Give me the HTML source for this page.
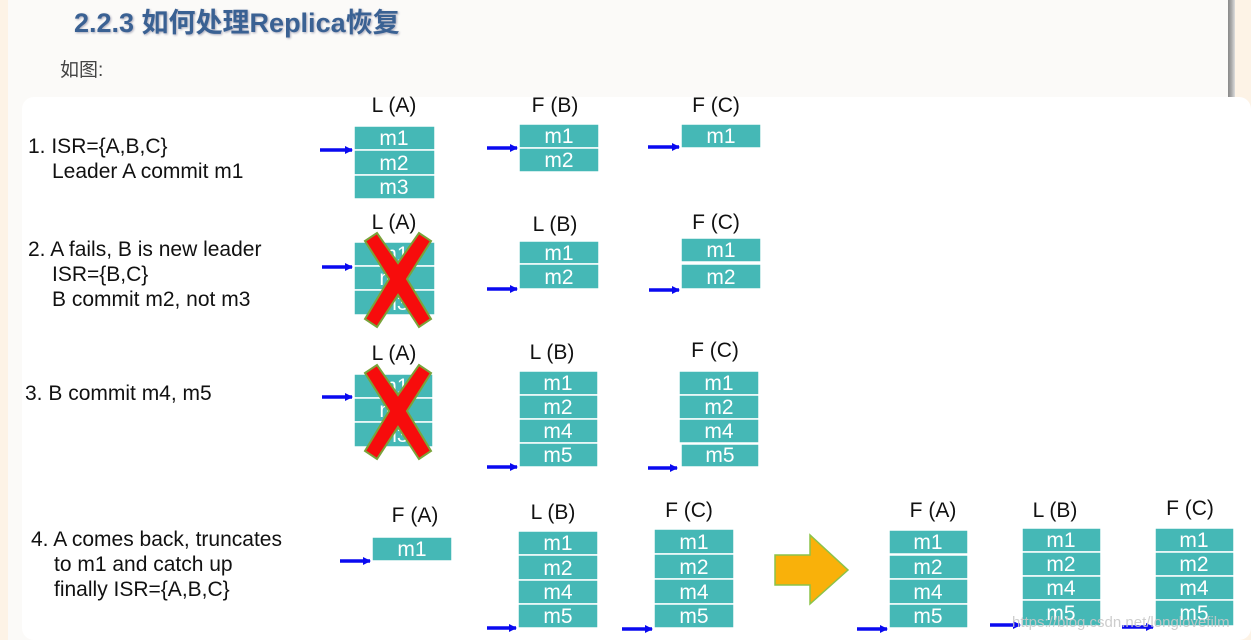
<!DOCTYPE html>
<html><head><meta charset="utf-8"><style>
html,body{margin:0;padding:0;width:1251px;height:640px;overflow:hidden;background:#fdf3e6;}
#page{position:absolute;left:8px;top:0;width:1220px;height:640px;background:#fbfaf8;}
#bar{position:absolute;left:1228px;top:0;width:7px;height:640px;background:linear-gradient(90deg,#888,#aaa,#ddd);}
h2{position:absolute;left:74px;top:1px;margin:0;font:bold 27px "Liberation Sans","Noto Sans CJK SC",sans-serif;color:#3a6193;text-shadow:1px 1px 2px #aab;}
.p{position:absolute;left:60px;top:55px;font:19px "Liberation Sans","Noto Sans CJK SC",sans-serif;color:#444;}
svg{position:absolute;left:0;top:0;}
</style></head><body>
<div id="page"></div><div id="bar"></div>
<h2>2.2.3 如何处理Replica恢复</h2>
<div class="p">如图:</div>
<svg width="1251" height="640" font-family="Liberation Sans, sans-serif">
<defs>
<marker id="ah" markerWidth="8" markerHeight="8" refX="7" refY="4" orient="auto" markerUnits="userSpaceOnUse"><path d="M0,0 L8,4 L0,8 Z" fill="#0a0af0"/></marker>
<g id="x"><path d="M0,8 L12,0 L33,30 L54,0 L66,8 L42,46 L66,86 L54,94 L33,62 L12,94 L0,86 L24,46 Z" fill="#f70c0c" stroke="#7aa33a" stroke-width="2"/></g>
</defs>
<rect x="22" y="97" width="1229" height="543" rx="12" fill="#fff"/>
<g font-size="21" fill="#111">
<text x="28" y="153">1. ISR={A,B,C}</text>
<text x="52" y="178">Leader A commit m1</text>
<text x="28" y="256">2. A fails, B is new leader</text>
<text x="52" y="281">ISR={B,C}</text>
<text x="52" y="306">B commit m2,  not m3</text>
<text x="25" y="400">3. B commit m4, m5</text>
<text x="31" y="546">4. A comes back, truncates</text>
<text x="54" y="571">to m1 and catch up</text>
<text x="54" y="596">finally ISR={A,B,C}</text>
</g>
<g font-size="21" fill="#111" text-anchor="middle">
<text x="394" y="112">L (A)</text><text x="555" y="112">F (B)</text><text x="716" y="112">F (C)</text>
<text x="394" y="229">L (A)</text><text x="555" y="231">L (B)</text><text x="716" y="229">F (C)</text>
<text x="394" y="360">L (A)</text><text x="552" y="359">L (B)</text><text x="715" y="357">F (C)</text>
<text x="415" y="522">F (A)</text><text x="553" y="519">L (B)</text><text x="689" y="517">F (C)</text>
<text x="933" y="517">F (A)</text><text x="1055" y="517">L (B)</text><text x="1190" y="515">F (C)</text>
</g>
<g fill="#45b8b6" stroke="#fff" stroke-width="1.5">
<rect x="354" y="126" width="81" height="24"/><rect x="354" y="150" width="81" height="25"/><rect x="354" y="175" width="81" height="24"/>
<rect x="519" y="124" width="80" height="24"/><rect x="519" y="148" width="80" height="24"/>
<rect x="681" y="124" width="80" height="24"/>
<rect x="354" y="242" width="81" height="24"/><rect x="354" y="266" width="81" height="24"/><rect x="354" y="290" width="81" height="25"/>
<rect x="519" y="241" width="80" height="23"/><rect x="519" y="264" width="80" height="25"/>
<rect x="681" y="238" width="80" height="24"/><rect x="681" y="264" width="80" height="25"/>
<rect x="354" y="374" width="79" height="24"/><rect x="354" y="398" width="79" height="24"/><rect x="354" y="422" width="79" height="25"/>
<rect x="519" y="371" width="79" height="24"/><rect x="519" y="395" width="79" height="24"/><rect x="519" y="419" width="79" height="24"/><rect x="519" y="443" width="79" height="24"/>
<rect x="679" y="371" width="80" height="24"/><rect x="679" y="395" width="80" height="24"/><rect x="679" y="419" width="80" height="24"/><rect x="681" y="444" width="78" height="23"/>
<rect x="372" y="537" width="80" height="24"/>
<rect x="518" y="531" width="80" height="24"/><rect x="518" y="555" width="80" height="25"/><rect x="518" y="580" width="80" height="24"/><rect x="518" y="604" width="80" height="24"/>
<rect x="654" y="529" width="80" height="25"/><rect x="654" y="554" width="80" height="25"/><rect x="654" y="579" width="80" height="25"/><rect x="654" y="604" width="80" height="24"/>
<rect x="889" y="530" width="79" height="24"/><rect x="889" y="555" width="79" height="24"/><rect x="889" y="579" width="79" height="25"/><rect x="889" y="604" width="79" height="24"/>
<rect x="1022" y="528" width="79" height="24"/><rect x="1022" y="552" width="79" height="24"/><rect x="1022" y="576" width="79" height="24"/><rect x="1022" y="600" width="79" height="26"/>
<rect x="1155" y="528" width="79" height="24"/><rect x="1155" y="552" width="79" height="24"/><rect x="1155" y="576" width="79" height="24"/><rect x="1155" y="600" width="79" height="26"/>
</g>
<g font-size="21" fill="#fff" text-anchor="middle">
<text x="394" y="145">m1</text><text x="394" y="170">m2</text><text x="394" y="194">m3</text>
<text x="559" y="143">m1</text><text x="559" y="167">m2</text>
<text x="721" y="143">m1</text>
<text x="394" y="261">m1</text><text x="394" y="285">m2</text><text x="394" y="310">m3</text>
<text x="559" y="260">m1</text><text x="559" y="284">m2</text>
<text x="721" y="257">m1</text><text x="721" y="284">m2</text>
<text x="394" y="393">m1</text><text x="394" y="417">m2</text><text x="394" y="442">m3</text>
<text x="558" y="390">m1</text><text x="558" y="414">m2</text><text x="558" y="438">m4</text><text x="558" y="462">m5</text>
<text x="719" y="390">m1</text><text x="719" y="414">m2</text><text x="719" y="438">m4</text><text x="720" y="462">m5</text>
<text x="412" y="556">m1</text>
<text x="558" y="550">m1</text><text x="558" y="575">m2</text><text x="558" y="599">m4</text><text x="558" y="623">m5</text>
<text x="694" y="549">m1</text><text x="694" y="574">m2</text><text x="694" y="599">m4</text><text x="694" y="623">m5</text>
<text x="928" y="549">m1</text><text x="928" y="574">m2</text><text x="928" y="599">m4</text><text x="928" y="623">m5</text>
<text x="1061" y="547">m1</text><text x="1061" y="571">m2</text><text x="1061" y="595">m4</text><text x="1061" y="620">m5</text>
<text x="1194" y="547">m1</text><text x="1194" y="571">m2</text><text x="1194" y="595">m4</text><text x="1194" y="620">m5</text>
</g>
<use href="#x" x="365" y="233"/>
<use href="#x" x="365" y="365"/>
<path d="M775,555 L810,555 L810,535 L848,570 L810,604 L810,585 L775,585 Z" fill="#f9b10a" stroke="#8bc34a" stroke-width="1.5"/>
<g stroke="#0a0af0" stroke-width="3.5" marker-end="url(#ah)">
<line x1="320" y1="150" x2="352" y2="150"/><line x1="487" y1="148" x2="517" y2="148"/><line x1="648" y1="147" x2="679" y2="147"/>
<line x1="322" y1="267" x2="352" y2="267"/><line x1="487" y1="289" x2="517" y2="289"/><line x1="649" y1="290" x2="679" y2="290"/>
<line x1="322" y1="397" x2="352" y2="397"/><line x1="487" y1="467" x2="517" y2="467"/><line x1="648" y1="468" x2="677" y2="468"/>
<line x1="340" y1="561" x2="370" y2="561"/><line x1="487" y1="628" x2="516" y2="628"/><line x1="622" y1="629" x2="652" y2="629"/>
<line x1="857" y1="629" x2="887" y2="629"/><line x1="990" y1="625" x2="1020" y2="625"/><line x1="1122" y1="627" x2="1153" y2="627"/>
</g>
<text x="1012" y="627" font-size="15" fill="#c8c8c8" opacity="0.9">https://blog.csdn.net/longlovefilm</text>
</svg>
</body></html>
